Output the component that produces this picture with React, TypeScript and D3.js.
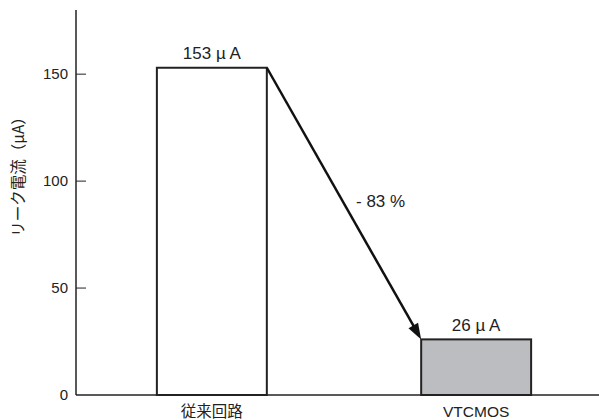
import React from "react";
import * as d3 from "d3";

// Leakage current per circuit type (µA)
const categories = ["従来回路", "VTCMOS"];
const leakage = [153, 26];
const barLabels = ["153 µ A", "26 µ A"];
const barFills = ["#ffffff", "#bcbdc0"];
const yTicks = [0, 50, 100, 150];
const reductionLabel = "- 83 %";
const yTitle = "リーク電流（µA）";

const W = 599;
const H = 420;
const axisX = 76;
const baseY = 395;

const LATIN = "'Liberation Sans', Arial, Helvetica, sans-serif";
const CJK = "'Noto Sans CJK JP', 'Liberation Sans', sans-serif";

export default function App() {
  const y = d3.scaleLinear().domain([0, 180]).range([baseY, 10]);
  const x = d3
    .scaleBand<string>()
    .domain(categories)
    .range([axisX, 612])
    .paddingInner(0.584)
    .paddingOuter(0.306);
  const bw = x.bandwidth();

  const x0 = (x(categories[0]) ?? 0) + bw;
  const y0 = y(leakage[0]);
  const x1 = x(categories[1]) ?? 0;
  const y1 = y(leakage[1]);
  // shorten the line so the arrowhead tip lands on the corner
  const ang = Math.atan2(y1 - y0, x1 - x0);
  const headLen = 16;
  const headHalf = 5.5;
  const lineEndX = x1 - Math.cos(ang) * (headLen - 2);
  const lineEndY = y1 - Math.sin(ang) * (headLen - 2);
  const bx = x1 - Math.cos(ang) * headLen;
  const by = y1 - Math.sin(ang) * headLen;
  const px = -Math.sin(ang) * headHalf;
  const py = Math.cos(ang) * headHalf;

  return (
    <svg
      width={W}
      height={H}
      style={{ position: "absolute", left: 0, top: 0, background: "#fff" }}
    >
      {/* y axis */}
      <line x1={axisX} x2={axisX} y1={y(180)} y2={baseY} stroke="#222" strokeWidth={1.5} />
      {/* baseline */}
      <line x1={axisX} x2={W} y1={baseY} y2={baseY} stroke="#222" strokeWidth={1.5} />
      {yTicks.map((t) => (
        <g key={t}>
          {t > 0 && (
            <line x1={axisX} x2={axisX + 10} y1={y(t)} y2={y(t)} stroke="#222" strokeWidth={1} />
          )}
          <text
            x={axisX - 8}
            y={y(t)}
            dy="0.35em"
            textAnchor="end"
            fontFamily={LATIN}
            fontSize={15}
            fill="#222"
          >
            {t}
          </text>
        </g>
      ))}
      <text
        transform={`translate(24,${173}) rotate(-90)`}
        textAnchor="middle"
        fontFamily={CJK}
        fontSize={15.5}
        fill="#222"
      >
        {yTitle}
      </text>

      {categories.map((c, i) => (
        <g key={c}>
          <rect
            x={x(c)}
            y={y(leakage[i])}
            width={bw}
            height={baseY - y(leakage[i])}
            fill={barFills[i]}
            stroke="#222"
            strokeWidth={2}
          />
          <text
            x={(x(c) ?? 0) + bw / 2}
            y={y(leakage[i]) - 8.5}
            textAnchor="middle"
            fontFamily={LATIN}
            fontSize={17}
            fill="#222"
          >
            {barLabels[i]}
          </text>
          <text
            x={(x(c) ?? 0) + bw / 2}
            y={baseY + 22}
            textAnchor="middle"
            fontFamily={i === 0 ? CJK : LATIN}
            fontSize={15.5}
            fill="#222"
          >
            {c}
          </text>
        </g>
      ))}

      {/* reduction arrow */}
      <line x1={x0} y1={y0} x2={lineEndX} y2={lineEndY} stroke="#111" strokeWidth={2.5} />
      <path
        d={`M${x1},${y1} L${bx + px},${by + py} L${bx - px},${by - py} Z`}
        fill="#111"
      />
      <text x={356} y={207} fontFamily={LATIN} fontSize={17} fill="#222">
        {reductionLabel}
      </text>
    </svg>
  );
}
